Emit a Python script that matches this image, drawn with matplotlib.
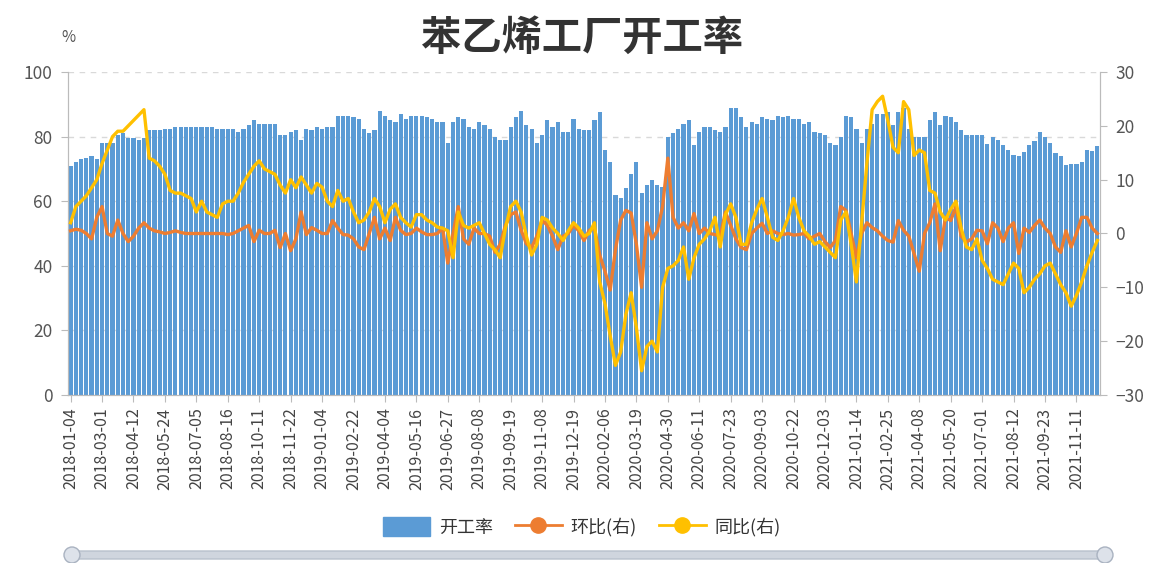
import matplotlib.pyplot as plt
from matplotlib.patches import Patch, FancyBboxPatch, Circle
from matplotlib.lines import Line2D

plt.rcParams['font.family'] = ['Noto Sans CJK SC', 'DejaVu Sans']

tick_labels = ['2018-01-04', '2018-03-01', '2018-04-12', '2018-05-24', '2018-07-05',
               '2018-08-16', '2018-10-11', '2018-11-22', '2019-01-04', '2019-02-22',
               '2019-04-04', '2019-05-16', '2019-06-27', '2019-08-08', '2019-09-19',
               '2019-11-08', '2019-12-19', '2020-02-06', '2020-03-19', '2020-04-30',
               '2020-06-11', '2020-07-23', '2020-09-03', '2020-10-22', '2020-12-03',
               '2021-01-14', '2021-02-25', '2021-04-08', '2021-05-20', '2021-07-01',
               '2021-08-12', '2021-09-23', '2021-11-11']

# 开工率 (%), weekly
rate = [71, 72, 73, 73.5, 74, 73, 78, 78, 78, 80.5,
        81, 79.5, 79.5, 79, 79.5, 82, 82, 82, 82.5, 82.5,
        83, 83, 83, 83, 83, 83, 83, 83, 82.5, 82.5,
        82.5, 82.5, 81.5, 82.5, 83.5, 85, 84, 84, 84, 84,
        80.5, 80.5, 81.5, 82, 79, 82.5, 82, 83, 82.5, 83,
        83, 86.5, 86.5, 86.5, 86, 85.5, 82.5, 81, 82, 88,
        86.5, 85, 84.5, 87, 85.5, 86.5, 86.5, 86.5, 86, 85.5,
        84.5, 84.5, 78, 84.5, 86, 85.5, 83, 82.5, 84.5, 83.5,
        82.5, 80, 79, 79, 83, 86, 88, 83.5, 82.5, 78,
        80.5, 85, 83, 84.5, 81.5, 81.5, 85.5, 82.5, 82, 82,
        85, 87.5, 76, 72, 62, 61, 64, 68.5, 72, 62.5,
        65, 66.5, 65, 64.5, 80, 81, 82.5, 84, 85, 77.5,
        81.5, 83, 83, 82, 81.5, 83, 89, 89, 86, 83,
        84.5, 84, 86, 85.5, 85, 86.5, 86, 86.5, 85.5, 85.5,
        84, 84.5, 81.5, 81, 80.5, 78, 77.5, 80, 86.5, 86,
        82.5, 78, 82.5, 84, 87, 87, 87.5, 83.5, 87.5, 89,
        82.5, 80, 80, 80, 85, 87.7, 83.5, 86.5, 86, 84.5,
        82, 80.5, 80.5, 80.5, 80.5, 77.7, 80, 79, 77.4, 76,
        74.3, 74, 75.3, 77.5, 78.5, 81.5, 80, 78, 75, 74,
        71.2, 71.5, 71.5, 72, 76, 75.5, 77]

# 环比 (right axis)
mom = [0.5, 0.8, 0.6, 0, -1, 3, 5, 0, -0.5, 2.5,
       0, -1.5, -0.5, 1, 2, 1, 0.5, 0.3, 0, 0.2,
       0.5, 0.2, 0, 0, 0, 0, 0, 0, 0, 0,
       -0.2, 0, 0.5, 1, 1.5, -1.5, 0.6, 0, 0, 0.6,
       -2.6, 0, -3.2, -1, 4, -0.2, 1.1, 0.6, 0, 0,
       2.4, 1, -0.2, -0.3, -1, -2.5, -3, 0, 3, -1,
       1, -1.3, 3, 0.6, -0.2, 0, 1, 0.3, -0.2, -0.2,
       0, 1, -5.5, 0, 5, -1, -2, 1, 0, 0,
       -0.5, -3.5, -2, 1.5, 3.5, 4, 0.6, -1.9, -2.6, -0.5,
       2.5, 1.5, -0.5, -3, -0.5, 0, 1.5, 0.5, -1.3, 0.6,
       1, -4, -7, -10.5, -3, 2.5, 4.3, 3.8, -2, -10,
       2, -1, 0.5, 5, 14, 3, 1, 2, 0.5, 3.7,
       0, 1, 0, -0.2, -0.5, 4, 1.5, -1, -2.6, -3,
       0, 1, 1.9, 0, 0.5, 0, -0.2, 0, -0.3, -0.2,
       0, -1, -0.5, 0, -1.5, -2.6, -1.3, 5, 4.3, 0,
       -4.5, 0, 2, 1.1, 0.5, -0.5, -1.3, -1.6, 2.4, 0.6,
       -0.5, -3.7, -7, 0, 2, 5.5, -3.2, 3, 2.4, 5,
       -0.5, -1.6, -1, 0.6, 0.5, -1.9, 2, 1, -1.5, 1,
       2, -3.7, 1, 0.2, 1.5, 2.5, 1, 0, -2.5, -3.5,
       0.5, -2.5, 0, 3, 3, 1, 0]

# 同比 (right axis)
yoy = [2, 5, 6, 7, 8.5, 10, 13, 15.5, 18, 19,
       19, 20, 21, 22, 23, 14, 13.5, 12.5, 11, 8,
       7.5, 7.5, 7, 6.5, 4, 6, 4, 3.5, 3, 5.5,
       6, 6, 7.5, 9.5, 11, 12.5, 13.5, 12, 11.5, 11,
       9, 7.5, 10, 8.5, 10.5, 9, 7.5, 9.3, 8.6, 6,
       5, 8, 6, 6.5, 4, 2, 2.5, 4, 6.5, 5,
       2, 4.5, 5.5, 3, 2, 1.2, 3.5, 3.5, 2.5, 2,
       1.2, 1, 0.5, -4.5, 4, 1.5, 1, 1.5, 2, 0,
       -2, -3, -4.5, 1, 5, 6, 4, -0.5, -4, -2,
       3, 2.5, 1, 0, -1.3, 0.5, 2, 1, -0.5, 0,
       2, -9, -13, -19, -24.5, -22, -15, -11, -17.5, -25.5,
       -21, -20, -22, -10, -6.5, -6, -5, -2.5, -8.5, -4.5,
       -2, -1, 0.5, 3, -2.5, 3.5, 5.5, 3, -2, -2,
       2, 4.5, 6.5, 3, -0.7, -1.3, 0.5, 3, 6.5, 3,
       0.5, -0.5, -2, -1.5, -2.5, -3.5, -4.5, 2.5, 4, -2,
       -9, 2, 13, 23, 24.5, 25.5, 21, 16, 15, 24.5,
       23, 14.5, 15.5, 15, 8, 7.5, 4, 2.5, 4.5, 6,
       1, -2.5, -3, -1, -5, -6.5, -8.5, -9, -9.5, -7.5,
       -5.5, -6.5, -11, -10, -8.5, -7.5, -6, -5.5, -7.5, -9.5,
       -11, -13.5, -11.5, -9, -6, -3.5, -1.3]

blue = '#5b9bd5'
orange = '#ed7d31'
yellow = '#ffc000'
axis_grey = '#bbbbbb'
text_grey = '#555555'

fig = plt.figure(figsize=(11.56, 5.63), dpi=100)
ax = fig.add_axes([68 / 1156, 1 - 395 / 563, (1100 - 68) / 1156, (395 - 72) / 563])

x = list(range(len(rate)))
ax.bar(x, rate, width=0.8, color=blue, zorder=2)
ax.set_xlim(-0.5, len(rate) - 0.5)
ax.set_ylim(0, 100)
ax.set_yticks(range(0, 101, 20))
ax.grid(axis='y', linestyle=(0, (4, 4)), color='#d9d9d9', lw=1, zorder=0)
ax.set_axisbelow(True)

ax.set_xticks(x[::6])
ax.set_xticklabels(tick_labels, rotation=90, fontsize=11.5, color='#444444')
ax.tick_params(axis='x', length=5, color=axis_grey, pad=4)
ax.tick_params(axis='y', length=5, color=axis_grey, labelsize=12.5, labelcolor=text_grey, pad=6)

ax2 = ax.twinx()
ax2.plot(x, mom, color=orange, lw=2.4, zorder=3)
ax2.plot(x, yoy, color=yellow, lw=2.4, zorder=4)
ax2.set_ylim(-30, 30)
ax2.set_yticks(range(-30, 31, 10))
ax2.tick_params(axis='y', length=5, color=axis_grey, labelsize=12.5, labelcolor=text_grey, pad=6)

for a in (ax, ax2):
    a.spines['top'].set_visible(False)
    for s in ('left', 'right', 'bottom'):
        a.spines[s].set_color(axis_grey)

fig.text(582 / 1156, 1 - 38 / 563, '苯乙烯工厂开工率', ha='center', va='center',
         fontsize=29, fontweight='bold', color='#333333')
fig.text(68 / 1156, 1 - 38 / 563, '%', ha='center', va='center', fontsize=11, color=text_grey)

handles = [Patch(facecolor=blue, edgecolor=blue),
           Line2D([], [], color=orange, lw=2, marker='o', markersize=11),
           Line2D([], [], color=yellow, lw=2, marker='o', markersize=11)]
fig.legend(handles, ['开工率', '环比(右)', '同比(右)'], loc='center', ncol=3,
           bbox_to_anchor=(582 / 1156, 1 - 527 / 563), frameon=False,
           fontsize=13, labelcolor='#333333', handlelength=2.6, handleheight=1.2,
           columnspacing=1.2, handletextpad=0.5)

# data zoom slider at the bottom
ov = fig.add_axes([0, 0, 1, 1], facecolor='none')
ov.set_xlim(0, 1156)
ov.set_ylim(563, 0)
ov.axis('off')
ov.add_patch(FancyBboxPatch((72, 551), 1033, 8, boxstyle='round,pad=0,rounding_size=4',
                            facecolor='#cfd5de', edgecolor='#b8c0cc', lw=1))
for cx in (72, 1105):
    ov.add_patch(Circle((cx, 555), 8, facecolor='#dde2ea', edgecolor='#a9b2c0', lw=1))

fig.savefig('out.png', dpi=100)
